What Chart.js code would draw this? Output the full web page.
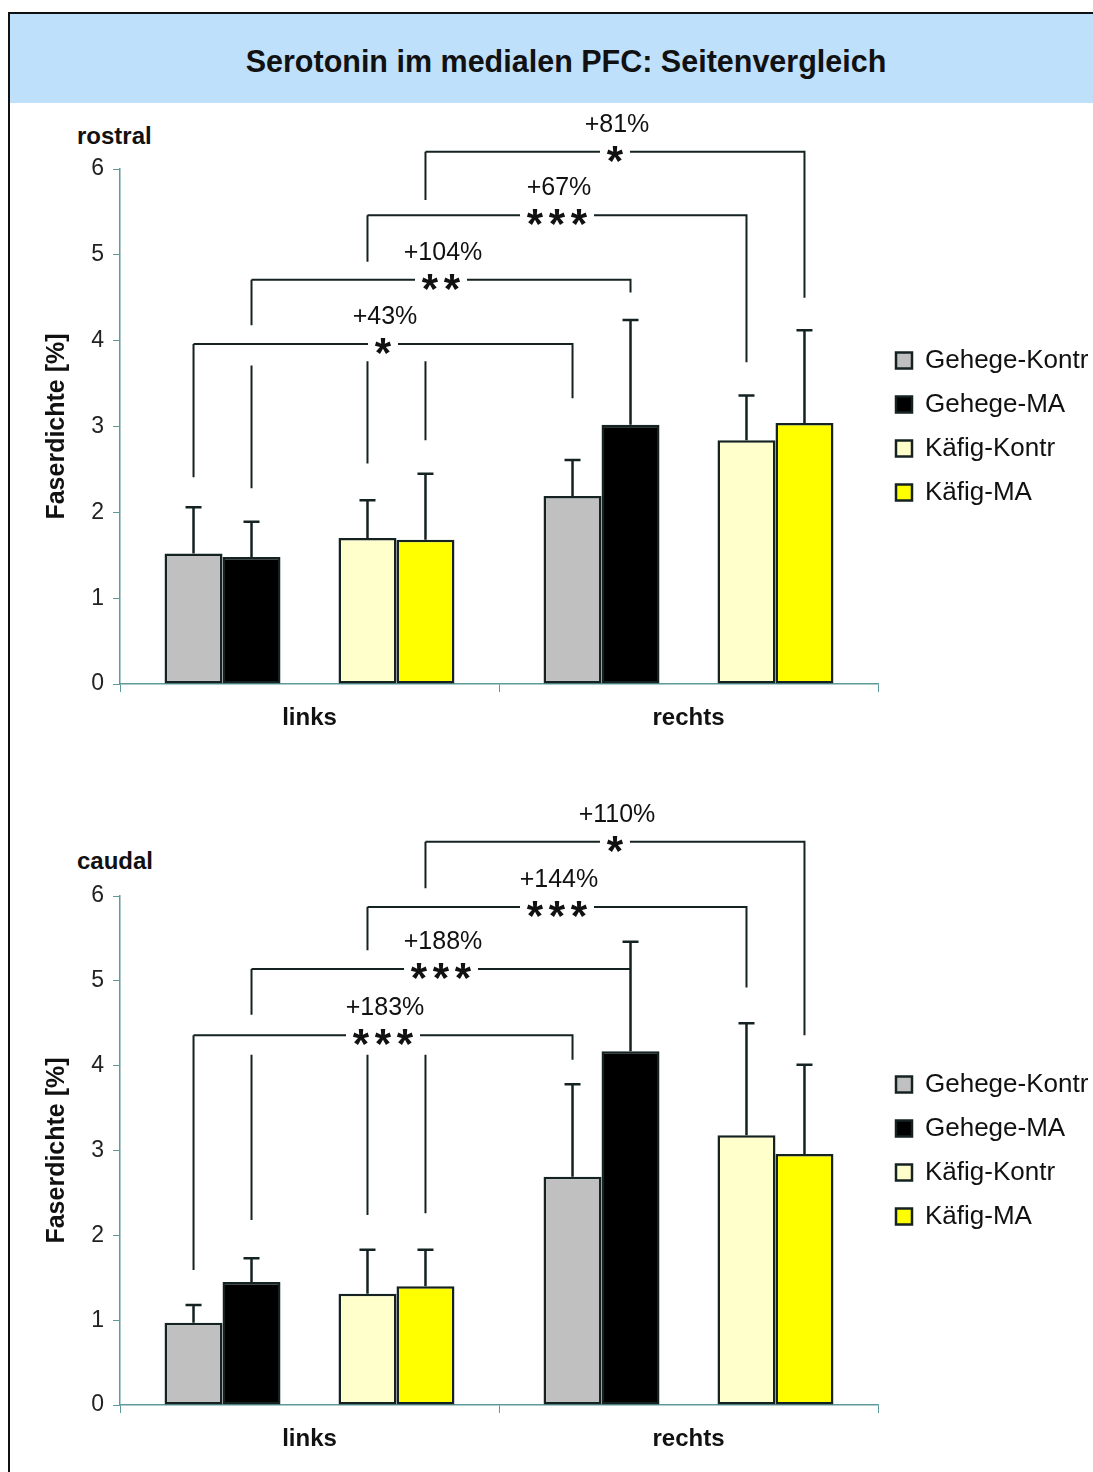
<!DOCTYPE html>
<html>
<head>
<meta charset="utf-8">
<script src="https://cdn.jsdelivr.net/npm/chart.js@4.4.1/dist/chart.umd.min.js"></script>
<style>
  html, body { margin: 0; padding: 0; background: #fff; width: 1093px; height: 1472px; overflow: hidden;
    font-family: "Liberation Sans", Arial, sans-serif; color: #111; }
  #frame { position: absolute; left: 8px; top: 12px; width: 1120px; height: 1500px; border: 2px solid #111; box-sizing: border-box; }
  #band { position: absolute; left: 10px; top: 14px; width: 1083px; height: 89px; background: #bee0fb; }
  #title { position: absolute; left: 0; top: 14px; width: 1132px; height: 89px; line-height: 95px; text-align: center;
    font-weight: bold; font-size: 30.5px; }
  .sub { position: absolute; left: 77px; font-weight: bold; font-size: 24px; line-height: 24px; }
  canvas { position: absolute; left: 0; }
</style>
</head>
<body>
<div id="frame"></div>
<div id="band"></div>
<div id="title">Serotonin im medialen PFC: Seitenvergleich</div>
<div class="sub" style="top:124px">rostral</div>
<div class="sub" style="top:849px">caudal</div>
<canvas id="rostral" style="top:105px"></canvas>
<canvas id="caudal" style="top:770px"></canvas>
<script>
const categories = ['links', 'rechts'];
const groups = ['Gehege-Kontr', 'Gehege-MA', 'Käfig-Kontr', 'Käfig-MA'];
const yTicks = [0, 1, 2, 3, 4, 5, 6];

// rostral: means and SD (links, rechts)
const rostralGehegeKontr = [1.52, 2.19];
const rostralGehegeMA = [1.48, 3.02];
const rostralKaefigKontr = [1.70, 2.84];
const rostralKaefigMA = [1.68, 3.04];
const rostralSdGehegeKontr = [0.54, 0.42];
const rostralSdGehegeMA = [0.41, 1.22];
const rostralSdKaefigKontr = [0.44, 0.52];
const rostralSdKaefigMA = [0.77, 1.08];

// caudal
const caudalGehegeKontr = [0.97, 2.69];
const caudalGehegeMA = [1.45, 4.17];
const caudalKaefigKontr = [1.31, 3.18];
const caudalKaefigMA = [1.40, 2.96];
const caudalSdGehegeKontr = [0.21, 1.09];
const caudalSdGehegeMA = [0.28, 1.29];
const caudalSdKaefigKontr = [0.52, 1.32];
const caudalSdKaefigMA = [0.43, 1.05];

// significance brackets: group index links -> rechts, bracket height, leg ends, break in left leg
const rostralBrackets = [
  { group: 0, y: 3.96, leftEnd: 2.41, rightEnd: 3.33, gap: null, pct: '+43%', stars: '*' },
  { group: 1, y: 4.71, leftEnd: 2.28, rightEnd: 4.56, gap: [4.18, 3.71], pct: '+104%', stars: '**' },
  { group: 2, y: 5.46, leftEnd: 2.57, rightEnd: 3.75, gap: [4.92, 3.76], pct: '+67%', stars: '***' },
  { group: 3, y: 6.20, leftEnd: 2.84, rightEnd: 4.50, gap: [5.64, 3.76], pct: '+81%', stars: '*' }
];
const caudalBrackets = [
  { group: 0, y: 4.36, leftEnd: 1.59, rightEnd: 4.07, gap: null, pct: '+183%', stars: '***' },
  { group: 1, y: 5.14, leftEnd: 2.18, rightEnd: 5.14, gap: [4.60, 4.13], pct: '+188%', stars: '***' },
  { group: 2, y: 5.87, leftEnd: 2.24, rightEnd: 4.92, gap: [5.36, 4.13], pct: '+144%', stars: '***' },
  { group: 3, y: 6.64, leftEnd: 2.26, rightEnd: 4.36, gap: [6.09, 4.13], pct: '+110%', stars: '*' }
];

const fills = ['#c0c0c0', '#000000', '#ffffcc', '#ffff00'];
const axisColor = '#5f9a9a';
const ink = '#152222';
const slot = [0, 1, 3, 4]; // dataset index of each group (index 2 is the empty spacer)

const annotate = {
  id: 'annotate',
  afterDatasetsDraw(chart, args, opts) {
    const ctx = chart.ctx;
    const ys = chart.scales.y;
    ctx.save();
    // error bars (upper only)
    ctx.strokeStyle = ink;
    ctx.lineWidth = 2.5;
    opts.sd.forEach((arr, g) => {
      const ds = chart.data.datasets[slot[g]];
      const meta = chart.getDatasetMeta(slot[g]);
      arr.forEach((s, i) => {
        const bar = meta.data[i];
        const top = ys.getPixelForValue(ds.data[i] + s);
        ctx.beginPath();
        ctx.moveTo(bar.x, bar.y);
        ctx.lineTo(bar.x, top);
        ctx.moveTo(bar.x - 8, top);
        ctx.lineTo(bar.x + 8, top);
        ctx.stroke();
      });
    });
    // brackets
    opts.brackets.forEach(b => {
      const meta = chart.getDatasetMeta(slot[b.group]);
      const xl = meta.data[0].x;
      const xr = meta.data[1].x;
      const yl = ys.getPixelForValue(b.y);
      const segs = b.gap ? [[b.y, b.gap[0]], [b.gap[1], b.leftEnd]] : [[b.y, b.leftEnd]];
      ctx.strokeStyle = ink;
      ctx.lineWidth = 2;
      ctx.beginPath();
      segs.forEach(s => {
        ctx.moveTo(xl, ys.getPixelForValue(s[0]));
        ctx.lineTo(xl, ys.getPixelForValue(s[1]));
      });
      ctx.moveTo(xl, yl);
      ctx.lineTo(xr, yl);
      ctx.lineTo(xr, ys.getPixelForValue(b.rightEnd));
      ctx.stroke();

      const mid = (xl + xr) / 2;
      const n = b.stars.length;
      const w = (n - 1) * 22 + 30;
      ctx.fillStyle = '#fff';
      ctx.fillRect(mid - w / 2, yl - 4, w, 8);
      ctx.fillStyle = '#111';
      ctx.font = 'bold 42px "Liberation Sans", Arial, sans-serif';
      ctx.textAlign = 'center';
      ctx.textBaseline = 'alphabetic';
      for (let k = 0; k < n; k++) {
        ctx.fillText('*', mid + (k - (n - 1) / 2) * 22, yl + 23);
      }
      ctx.font = '25px "Liberation Sans", Arial, sans-serif';
      ctx.textBaseline = 'middle';
      ctx.fillText(b.pct, mid + 2, yl - 27);
    });
    ctx.restore();
  }
};

function makeChart(id, values, sds, brackets, padTop, height) {
  const canvas = document.getElementById(id);
  canvas.width = 1093;
  canvas.height = height;
  canvas.style.width = '1093px';
  canvas.style.height = height + 'px';
  const datasets = [];
  groups.forEach((g, i) => {
    if (i === 2) datasets.push({ label: '', data: [null, null] });
    datasets.push({
      label: g,
      data: values[i],
      backgroundColor: fills[i],
      borderColor: ink,
      borderWidth: 2.5,
      borderSkipped: false
    });
  });
  return new Chart(canvas, {
    type: 'bar',
    data: { labels: categories, datasets },
    options: {
      responsive: false,
      animation: false,
      events: [],
      layout: { padding: { top: padTop, left: 0, bottom: 0, right: 0 } },
      datasets: { bar: { categoryPercentage: 0.765, barPercentage: 1 } },
      scales: {
        x: {
          grid: { drawOnChartArea: false, color: axisColor, tickLength: 8 },
          border: { color: axisColor, width: 1.5 },
          ticks: { color: '#111', padding: 12, font: { family: '"Liberation Sans", Arial, sans-serif', size: 24, weight: 'bold' } },
          afterFit: s => { s.height = 56; }
        },
        y: {
          min: 0, max: 6,
          afterBuildTicks: s => { s.ticks = yTicks.map(v => ({ value: v })); },
          grid: { drawOnChartArea: false, color: axisColor, tickLength: 7 },
          border: { color: axisColor, width: 1.5 },
          ticks: { color: '#222', padding: 9, font: { family: '"Liberation Sans", Arial, sans-serif', size: 23 } },
          title: { display: true, text: 'Faserdichte [%]', color: '#111', padding: { top: 42, bottom: 0 },
            font: { family: '"Liberation Sans", Arial, sans-serif', size: 25, weight: 'bold' } },
          afterFit: s => { s.width = 120; }
        }
      },
      plugins: {
        tooltip: { enabled: false },
        legend: {
          position: 'right',
          align: 'center',
          fullSize: false,
          maxWidth: 215,
          labels: {
            filter: item => item.text !== '',
            boxWidth: 16,
            boxHeight: 16,
            padding: 18,
            color: '#111',
            font: { family: '"Liberation Sans", Arial, sans-serif', size: 26 }
          }
        },
        annotate: { sd: sds, brackets }
      }
    },
    plugins: [annotate]
  });
}

makeChart('rostral',
  [rostralGehegeKontr, rostralGehegeMA, rostralKaefigKontr, rostralKaefigMA],
  [rostralSdGehegeKontr, rostralSdGehegeMA, rostralSdKaefigKontr, rostralSdKaefigMA],
  rostralBrackets, 64, 635);
makeChart('caudal',
  [caudalGehegeKontr, caudalGehegeMA, caudalKaefigKontr, caudalKaefigMA],
  [caudalSdGehegeKontr, caudalSdGehegeMA, caudalSdKaefigKontr, caudalSdKaefigMA],
  caudalBrackets, 126, 691);
</script>
</body>
</html>
